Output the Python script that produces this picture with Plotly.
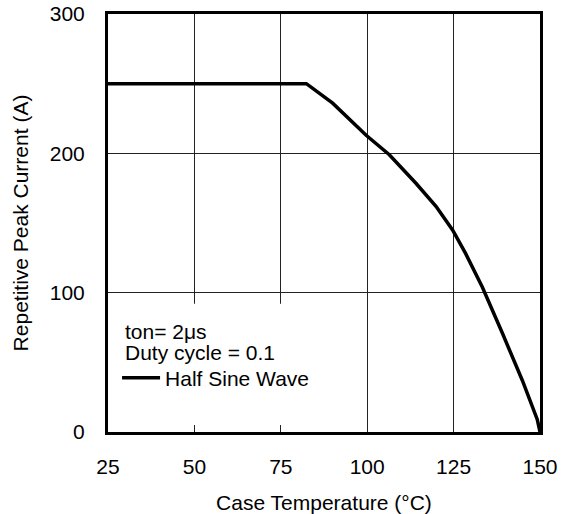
import plotly.graph_objects as go

# Data
temp_c = [25, 82.4, 90.0, 99.7, 106.4, 114.1, 119.9, 124.7, 128.5, 133.3, 139.1, 144.9, 149.2, 150]
current_a = [250, 250, 236, 213, 199, 178.5, 162, 145, 128, 104, 71, 37, 9, 0]

x_ticks = [25, 50, 75, 100, 125, 150]
y_ticks = [0, 100, 200, 300]

FONT = "Liberation Sans, Arial, Helvetica, sans-serif"
FS = 21

fig = go.Figure()
fig.add_trace(go.Scatter(
    x=temp_c, y=current_a, mode="lines",
    line=dict(color="black", width=3.5),
    name="Half Sine Wave", showlegend=True,
))

fig.update_layout(
    width=569, height=514,
    margin=dict(l=108, r=29, t=14, b=82),
    paper_bgcolor="white", plot_bgcolor="white",
    font=dict(family=FONT, size=FS, color="black"),
    showlegend=True,
    legend=dict(x=0.021, y=0.129, xanchor="left", yanchor="middle",
                bgcolor="rgba(0,0,0,0)", font=dict(size=FS),
                itemwidth=38),
    xaxis=dict(
        range=[25, 150], tickvals=x_ticks, ticks="", ticklen=0,
        showgrid=True, gridcolor="#222", gridwidth=1,
        showline=True, linecolor="black", linewidth=3, mirror=True,
        zeroline=False, ticklabelstandoff=14, automargin=False,
        title=dict(text="Case Temperature (°C)", standoff=20, font=dict(size=FS)),
    ),
    yaxis=dict(
        range=[0, 300], tickvals=y_ticks, ticks="", ticklen=0,
        showgrid=True, gridcolor="#222", gridwidth=1,
        showline=True, linecolor="black", linewidth=3, mirror=True,
        zeroline=False, ticklabelstandoff=16, automargin=False,
        title=dict(text="Repetitive Peak Current (A)", standoff=16, font=dict(size=FS)),
    ),
)

# white panel behind the notes (hides the grid there)
fig.add_shape(type="rect", xref="x", yref="y", x0=25.3, x1=88, y0=5, y1=92,
              fillcolor="white", line=dict(width=0), layer="between")

fig.add_annotation(x=0.035, y=0.2416, xref="paper", yref="paper",
                   text="ton= 2μs", showarrow=False, xanchor="left", yanchor="middle",
                   font=dict(size=FS))
fig.add_annotation(x=0.035, y=0.189, xref="paper", yref="paper",
                   text="Duty cycle = 0.1", showarrow=False, xanchor="left", yanchor="middle",
                   font=dict(size=FS))

fig.write_html("out.html")
